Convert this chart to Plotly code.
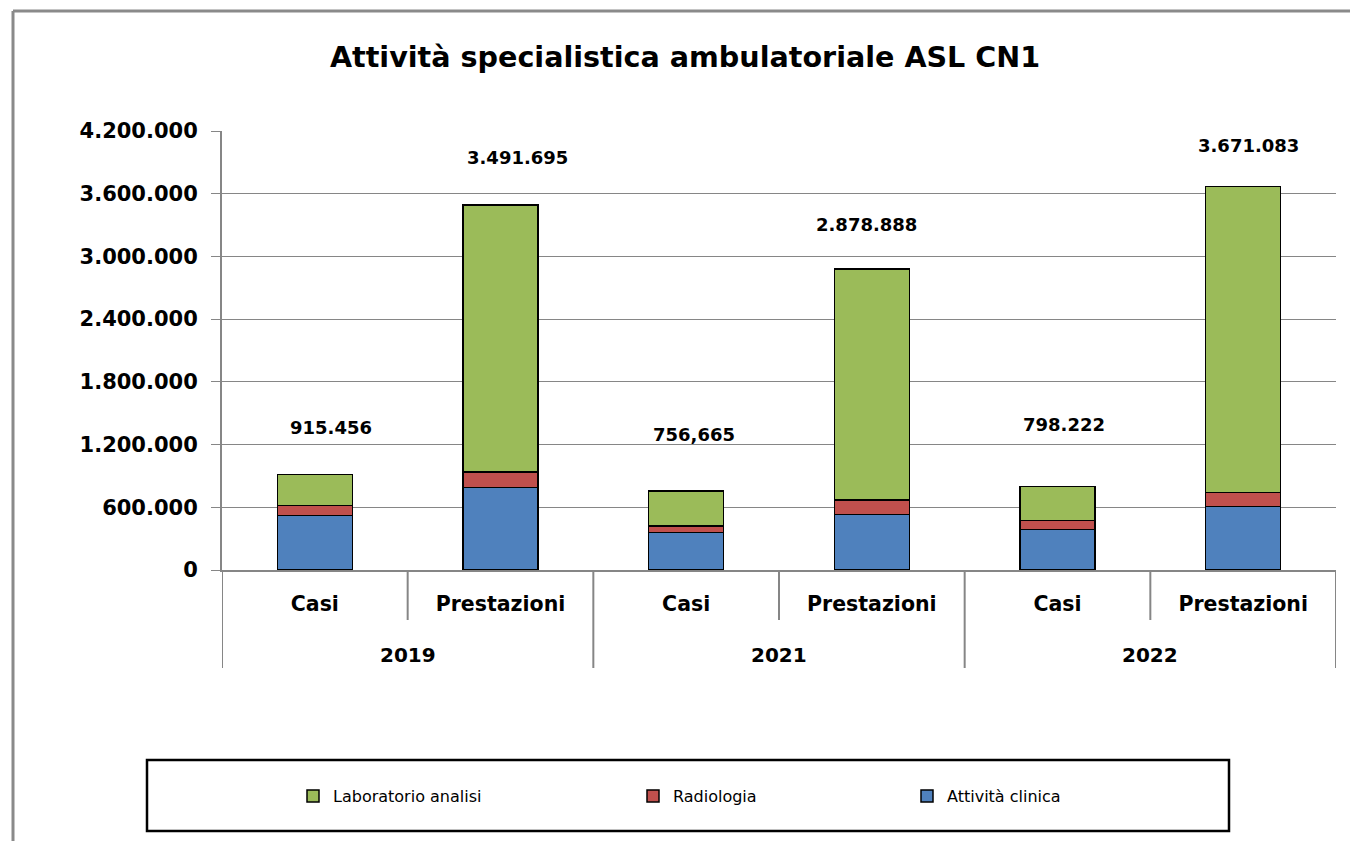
import plotly.graph_objects as go

# ---- data ----
years = ["2019", "2019", "2021", "2021", "2022", "2022"]
kinds = ["Casi", "Prestazioni", "Casi", "Prestazioni", "Casi", "Prestazioni"]
attivita_clinica = [523000, 791000, 361000, 533000, 389000, 606000]
radiologia = [96000, 147000, 60000, 137000, 87000, 137000]
laboratorio = [296456, 2553695, 335665, 2208888, 322222, 2928083]
total_labels = ["915.456", "3.491.695", "756,665", "2.878.888", "798.222", "3.671.083"]
y_ticks = [0, 600000, 1200000, 1800000, 2400000, 3000000, 3600000, 4200000]

# ---- style / layout ----
W, H = 1350, 841
L, R, T, B = 222, 14, 131, 271
PW, PH = W - L - R, H - T - B
def px_x(p): return (p - L) / PW
def px_y(p): return (H - B - p) / PH

label_xshift = [16, 17, 8, -5, 6, 5]
label_yshift = [47, 48, 56, 45, 62, 41]

GRAY = "#868686"
xpos = list(range(len(kinds)))
fig = go.Figure()
fig.add_trace(go.Bar(x=xpos, y=attivita_clinica, name="Attività clinica",
                     marker=dict(color="#4F81BD", line=dict(color="black", width=1.5)),
                     legend="legend3"))
fig.add_trace(go.Bar(x=xpos, y=radiologia, name="Radiologia",
                     marker=dict(color="#C0504D", line=dict(color="black", width=1.5)),
                     legend="legend2"))
fig.add_trace(go.Bar(x=xpos, y=laboratorio, name="Laboratorio analisi",
                     marker=dict(color="#9BBB59", line=dict(color="black", width=1.5)),
                     legend="legend"))

for i in xpos:
    tot = attivita_clinica[i] + radiologia[i] + laboratorio[i]
    fig.add_annotation(x=i, y=tot, xref="x", yref="y", text=total_labels[i],
                       showarrow=False, yshift=label_yshift[i], xshift=label_xshift[i],
                       font=dict(family="DejaVu Sans", size=18, color="black", weight="bold"))

# year group labels and dividers
groups = []
for i, yv in enumerate(years):
    if not groups or groups[-1][0] != yv:
        groups.append([yv, i, i])
    else:
        groups[-1][2] = i

shapes = []
for g, (yv, a, b) in enumerate(groups):
    fig.add_annotation(x=(a + b) / 2, y=px_y(655), xref="x", yref="paper", text=yv,
                       showarrow=False, yanchor="middle",
                       font=dict(family="DejaVu Sans", size=20, color="black", weight="bold"))
    for xb in ([a - 0.5] if g == 0 else []) + [b + 0.5]:
        shapes.append(dict(type="line", xref="x", yref="paper", x0=xb, x1=xb,
                           y0=0, y1=px_y(668), line=dict(color=GRAY, width=2)))
    for k in range(a, b):
        shapes.append(dict(type="line", xref="x", yref="paper", x0=k + 0.5, x1=k + 0.5,
                           y0=0, y1=px_y(620), line=dict(color=GRAY, width=2)))

# outer frame (partial)
shapes.append(dict(type="line", xref="paper", yref="paper", x0=px_x(13), x1=px_x(1352),
                   y0=px_y(11), y1=px_y(11), line=dict(color="#8a8a8a", width=3)))
shapes.append(dict(type="line", xref="paper", yref="paper", x0=px_x(13), x1=px_x(13),
                   y0=px_y(11), y1=px_y(845), line=dict(color="#8a8a8a", width=3)))
# legend box
shapes.append(dict(type="rect", xref="paper", yref="paper", x0=px_x(147), x1=px_x(1229),
                   y0=px_y(760), y1=px_y(831), line=dict(color="black", width=2.5)))

leg_font = dict(family="DejaVu Sans", size=16, color="black")
def leg(xpix):
    return dict(x=px_x(xpix), y=px_y(796), xanchor="left", yanchor="middle",
                orientation="h", font=leg_font, bgcolor="rgba(0,0,0,0)",
                borderwidth=0, itemwidth=30)

fig.update_layout(
    width=W, height=H,
    margin=dict(l=L, r=R, t=T, b=B),
    paper_bgcolor="white", plot_bgcolor="white",
    barmode="stack", bargap=0.596,
    separators=",.",
    title=dict(text="Attività specialistica ambulatoriale ASL CN1",
               x=685 / W, xref="container", xanchor="center", y=1 - 57 / H, yanchor="middle",
               font=dict(family="DejaVu Sans", size=28.6, color="black", weight="bold")),
    showlegend=True,
    legend=leg(293), legend2=leg(633), legend3=leg(907),
    shapes=shapes,
    yaxis=dict(range=[0, 4200000], tickvals=y_ticks, tickformat=",d",
               showgrid=True, gridcolor=GRAY, gridwidth=1,
               showline=True, linecolor=GRAY, linewidth=2,
               ticks="outside", ticklen=9, tickcolor=GRAY, tickwidth=1,
               ticklabelstandoff=9, zeroline=False,
               tickfont=dict(family="DejaVu Sans", size=21, color="black", weight="bold")),
    xaxis=dict(range=[-0.5, len(kinds) - 0.5], tickvals=xpos, ticktext=kinds,
               showline=True, linecolor=GRAY, linewidth=2, showgrid=False, zeroline=False,
               ticks="", ticklabelstandoff=14,
               tickfont=dict(family="DejaVu Sans", size=20.5, color="black", weight="bold")),
)

fig.write_html("out.html", config={"displayModeBar": False},
               post_script="document.body.style.margin='0';")
